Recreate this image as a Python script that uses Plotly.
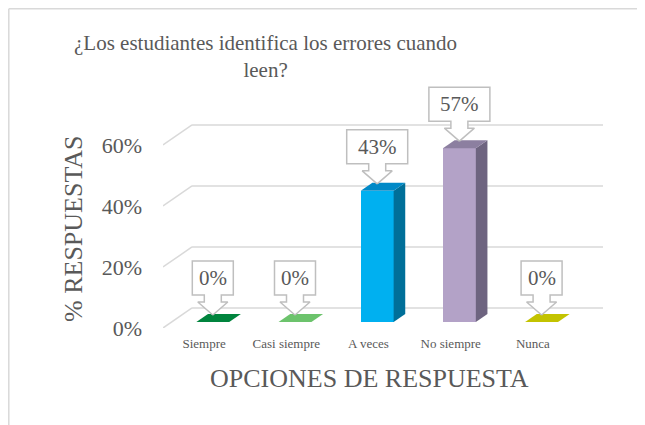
import plotly.graph_objects as go

# data
categories = ["Siempre", "Casi siempre", "A veces", "No siempre", "Nunca"]
values = [0, 0, 43, 57, 0]
labels = ["0%", "0%", "43%", "57%", "0%"]
y_ticks = [0, 20, 40, 60]
y_tick_text = ["0%", "20%", "40%", "60%"]

front_colors = ["#00B050", "#8FD48F", "#00B0F0", "#B3A2C7", "#E0E000"]
top_colors = ["#00843D", "#6CC36C", "#0089C7", "#8C7FA0", "#C3C300"]
side_colors = ["#00652F", "#4E9A4E", "#006F99", "#6E6480", "#9A9A00"]

# oblique 3d geometry (in axis units)
DX = 0.353          # depth shift along x for the full floor depth
DY = 6.56           # depth shift along y for the full floor depth
D0, D1 = 0.3, 0.7   # bar front / back depth
BW = 0.40           # bar width

OFF = 8             # page margin of the html body
W, H = 645 - OFF, 425 - OFF
# plot area in page pixels
P_L, P_R, P_T, P_B = 163, 603, 75, 328
PY = 3.05
x_range = [-0.5, len(categories) - 0.5 + DX]
y_range = [0, (P_B - P_T) / PY]
PX = (P_R - P_L) / (x_range[1] - x_range[0])
ML, MR, MT, MB = P_L - OFF, W - (P_R - OFF), P_T - OFF, H - (P_B - OFF)


def paper_x(px):
    return (px - P_L) / (P_R - P_L)


def paper_y(py):
    return (P_B - py) / (P_B - P_T)


grey_txt = "#595959"
grid_col = "#D9D9D9"
serif = "Liberation Serif, Times New Roman, serif"

fig = go.Figure()

base = D0 * DY
xs = [i + D0 * DX for i in range(len(categories))]
fig.add_trace(go.Bar(
    x=xs, y=values, base=base, width=BW,
    marker=dict(color=front_colors, line=dict(width=0)),
    hoverinfo="skip", showlegend=False,
))

ddx = (D1 - D0) * DX
ddy = (D1 - D0) * DY
for i, v in enumerate(values):
    xl = xs[i] - BW / 2
    xr = xs[i] + BW / 2
    top = base + v
    if v > 0:
        fig.add_trace(go.Scatter(
            x=[xr, xr + ddx, xr + ddx, xr, xr],
            y=[base, base + ddy, top + ddy, top, base],
            fill="toself", fillcolor=side_colors[i], mode="lines",
            line=dict(width=0, color=side_colors[i]),
            hoverinfo="skip", showlegend=False,
        ))
    fig.add_trace(go.Scatter(
        x=[xl, xr, xr + ddx, xl + ddx, xl],
        y=[top, top, top + ddy, top + ddy, top],
        fill="toself", fillcolor=top_colors[i], mode="lines",
        line=dict(width=0, color=top_colors[i]),
        hoverinfo="skip", showlegend=False,
    ))

# callouts
for i, v in enumerate(values):
    tx = xs[i]
    ty = base + v + 7 / PY
    w = 20 * len(labels[i]) + 1
    pts = [(0, 0), (-15, 13), (-8.5, 13), (-8.5, 20), (-w / 2, 20), (-w / 2, 54),
           (w / 2, 54), (w / 2, 20), (8.5, 20), (8.5, 13), (15, 13), (0, 0)]
    fig.add_trace(go.Scatter(
        x=[tx + p[0] / PX for p in pts],
        y=[ty + p[1] / PY for p in pts],
        fill="toself", fillcolor="white", mode="lines",
        line=dict(width=1.5, color="#BFBFBF"),
        hoverinfo="skip", showlegend=False,
    ))
    fig.add_annotation(
        x=tx, y=ty + 37 / PY, text=labels[i], showarrow=False,
        font=dict(family=serif, size=21, color=grey_txt),
        xanchor="center", yanchor="middle",
    )

# gridlines with the 3d wall offset
for t in y_ticks:
    fig.add_shape(type="line", x0=x_range[0], y0=t, x1=x_range[0] + DX, y1=t + DY,
                  line=dict(color=grid_col, width=1.5), layer="below")
    fig.add_shape(type="line", x0=x_range[0] + DX, y0=t + DY, x1=x_range[1], y1=t + DY,
                  line=dict(color=grid_col, width=1.5), layer="below")

# chart border: only the left and top edges are inside the picture
fig.add_shape(type="line", xref="paper", yref="paper",
              x0=paper_x(OFF + 0.8), x1=paper_x(OFF + 0.8),
              y0=paper_y(OFF + H), y1=paper_y(OFF + 0.8),
              line=dict(color=grid_col, width=1.5), layer="below")
fig.add_shape(type="line", xref="paper", yref="paper",
              x0=paper_x(OFF + 0.8), x1=paper_x(OFF + W),
              y0=paper_y(OFF + 0.8), y1=paper_y(OFF + 0.8),
              line=dict(color=grid_col, width=1.5), layer="below")

fig.add_annotation(
    text="¿Los estudiantes identifica los errores cuando<br>leen?",
    xref="paper", yref="paper", x=paper_x(265), y=paper_y(29),
    xanchor="center", yanchor="top", showarrow=False,
    font=dict(family=serif, size=21, color=grey_txt),
)
fig.add_annotation(
    text="OPCIONES DE RESPUESTA",
    xref="paper", yref="paper", x=paper_x(369), y=paper_y(378),
    xanchor="center", yanchor="middle", showarrow=False,
    font=dict(family=serif, size=26, color=grey_txt),
)
fig.add_annotation(
    text="% RESPUESTAS", textangle=-90,
    xref="paper", yref="paper", x=paper_x(73), y=paper_y(229),
    xanchor="center", yanchor="middle", showarrow=False,
    font=dict(family=serif, size=26, color=grey_txt),
)

fig.update_xaxes(
    range=x_range, tickvals=list(range(len(categories))), ticktext=categories,
    showgrid=False, zeroline=False, showline=False, ticks="",
    tickfont=dict(family=serif, size=13, color=grey_txt), ticklabelstandoff=6,
)
fig.update_yaxes(
    range=y_range, tickvals=y_ticks, ticktext=y_tick_text,
    showgrid=False, zeroline=False, showline=False, ticks="",
    tickfont=dict(family=serif, size=22, color=grey_txt), ticklabelstandoff=20,
)
fig.update_layout(
    width=W, height=H, margin=dict(l=ML, r=MR, t=MT, b=MB),
    paper_bgcolor="white", plot_bgcolor="white", showlegend=False, bargap=0,
)
fig.write_html("out.html")
